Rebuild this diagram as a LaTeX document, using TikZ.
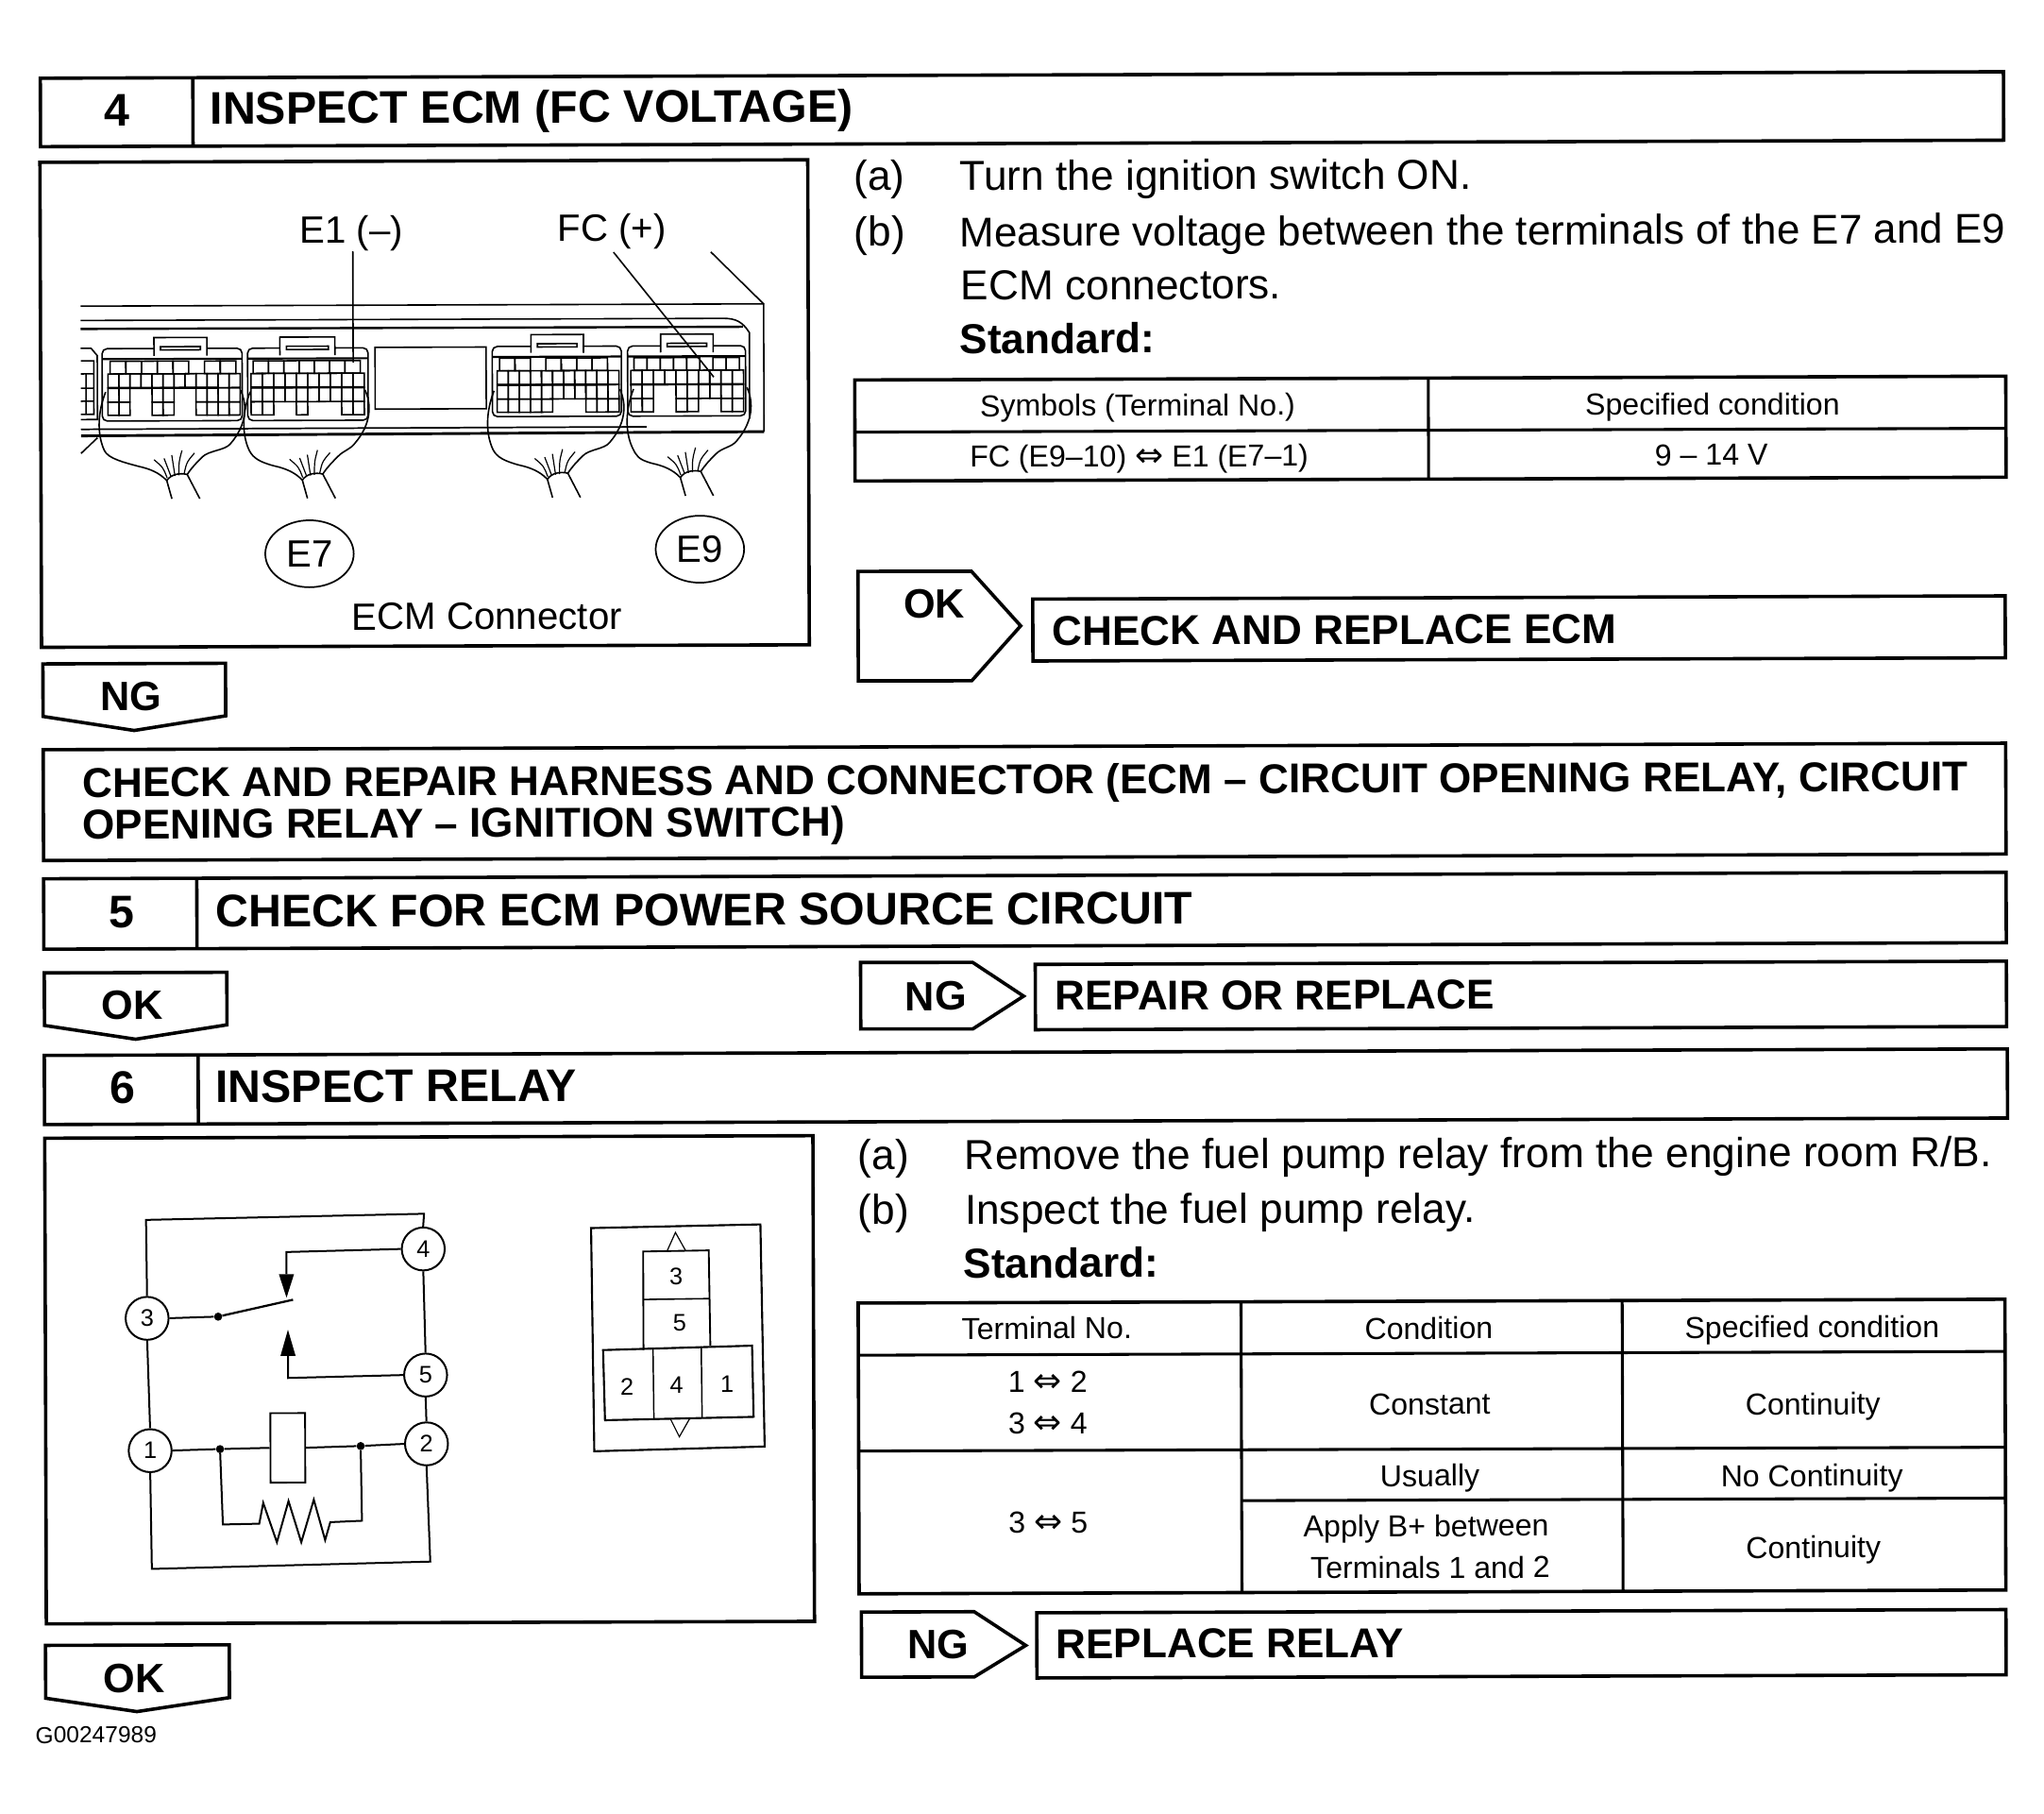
\documentclass[tikz,border=0pt]{standalone}
\usepackage{fontspec}
\setmainfont{Liberation Sans}
\newfontfamily\symf{DejaVu Sans}
\newcommand\hdf{\fontsize{36.3}{36.3}\selectfont\bfseries}
\newcommand\bxf{\fontsize{33.1}{33.1}\selectfont\bfseries}
\newcommand\tagf{\fontsize{32.5}{32.5}\selectfont\bfseries}
\newcommand\bdf{\fontsize{33.2}{40}\selectfont}
\newcommand\tbf{\fontsize{24.1}{30}\selectfont}
\newcommand\pcf{\fontsize{30.2}{30.2}\selectfont}
\newcommand\dgf{\fontsize{19}{19}\selectfont}
\newcommand\eqv{{\symf\fontsize{27}{20}\selectfont ⇔}}
\tikzset{
 bx/.style={draw,line width=2.7pt,line join=miter},
 sep/.style={draw,line width=2.3pt},
 thinl/.style={draw,line width=1.2pt},
 cellline/.style={draw,line width=1.15pt},
 wire/.style={draw,line width=1.5pt},
 lab/.style={anchor=base west,inner sep=0pt,transform shape},
 hdl/.style={lab,font=\hdf},
 bxl/.style={lab,font=\bxf},
 tagl/.style={lab,font=\tagf},
 bdl/.style={lab,font=\bdf},
 pcl/.style={lab,font=\pcf},
 tcl/.style={anchor=base,inner sep=0pt,transform shape,font=\tbf},
 numl/.style={anchor=base,inner sep=0pt,transform shape,font=\hdf},
 term/.style={draw,circle,line width=1.5pt,minimum size=34bp,inner sep=0pt,font=\dgf,transform shape},
 dgl/.style={inner sep=0pt,font=\dgf,transform shape},
 ecirc/.style={draw,ellipse,line width=1.3pt,minimum width=70bp,minimum height=53bp,inner sep=0pt,font=\pcf,transform shape},
 junction/.style={fill=black,circle,inner sep=0pt,minimum size=6.5pt},
}
\usetikzlibrary{shapes.geometric}
\newcommand\cellrow[5]{\foreach \c in {#5}{\draw[cellline] ({#1+\c*#2},#3) rectangle ({#1+(\c+1)*#2},#4);}}
\newcommand\conn[9]{%
 \cellrow{#3}{#4}{#5}{#5+9.7}{#6}%
 \cellrow{#1}{#2}{#5+9.7}{#5+20.5}{#7}%
 \cellrow{#1}{#2}{#5+20.5}{#5+31.4}{#8}%
 \cellrow{#1}{#2}{#5+31.4}{#5+41.5}{#9}%
 \draw[line width=1.8pt] (#1,{#5+20.5}) -- ({#1+#2*10},{#5+20.5});%
}
\newcommand\shell[4]{\draw[thinl,rounded corners=4] (#1,#4) -- (#1,#3) -- (#2,#3) -- (#2,#4) -- cycle;
 \draw[line width=1.6pt] (#1,{#3+8}) -- (#2,{#3+8});}
\newcommand\tabb[3]{\draw[thinl,fill=white] (#1,#3+14) -- (#1,#3) -- (#2,#3) -- (#2,#3+14);
 \draw[thinl] ({#1+5},#3+7) rectangle ({#2-5},#3+9.5);}
% #1 dx, #2 dy, #3 left-wire x (absolute), #4 right-wire x (absolute)
\newcommand\harness[4]{\begin{scope}[shift={(#1,#2)}]
 \draw[thinl] ({#3-#1+6},300) .. controls ({#3-#1},315) and ({#3-#1-1},332) .. ({#3-#1+5},345) .. controls ({#3-#1+8},351) and (95,354) .. (106,357) .. controls (115,359) and (122,362) .. (127.7,368) -- (131.6,382);
 \draw[thinl] ({#4-#1},299) .. controls ({#4-#1+5},310) and ({#4-#1+5},325) .. ({#4-#1-8},340) .. controls ({#4-#1-12},345) and (160,345) .. (155,350) .. controls (150,355) and (147,358) .. (143.4,363.4) -- (153,382);
 \draw[thinl] (127.7,368) .. controls (131,363) and (138,362) .. (143.4,363.4);
 \draw[line width=0.9pt] (128,366) .. controls (125,358) .. (118,352)
   (131,365) .. controls (129,358) .. (125.7,351)
   (134,364.5) .. controls (133,356) .. (131.6,348.5)
   (137,364) .. controls (137,354) .. (139.4,345)
   (141,363) .. controls (143,354) .. (149,347);
 \end{scope}}
\begin{document}
\begin{tikzpicture}[x=1.0357pt,y=-1.0357pt]
\useasboundingbox (0,0) rectangle (1568,1391);
\fill[white] (0,0) rectangle (1568,1391);
\begin{scope}[rotate around={0.19:(784,695)}]
%% Step 4
\draw[bx] (33,57.5) rectangle (1539,110);
\draw[bx] (150,57.5) -- (150,110);
\node[numl] (num4) at (92,94.7) {4};
\node[hdl] (head4) at (163,93) {INSPECT ECM (FC VOLTAGE)};
\draw[bx] (32.5,122) rectangle (621.5,494);
\node[bdl] (a4) at (656.8,145.6) {(a)};
\node[bdl] (a4t) at (738,146) {Turn the ignition switch ON.};
\node[bdl] (b4) at (656.7,188.6) {(b)};
\node[bdl,font=\fontsize{33}{40}\selectfont] (b4t) at (737.7,189) {Measure voltage between the terminals of the E7 and E9};
\node[bdl] (b4u) at (738.5,230) {ECM connectors.};
\node[bdl,font=\bdf\bfseries] (std4) at (737.4,271) {Standard:};
\draw[bx] (657,291) rectangle (1540,368.5);
\draw[sep] (657,331) -- (1540,331);
\draw[sep] (1097,291) -- (1097,368.5);
\node[tcl] (t1a) at (874,319.3) {Symbols (Terminal No.)};
\node[tcl] (t1b) at (1315,320) {Specified condition};
\node[tcl] (t1c) at (875,358.3) {FC (E9--10) \eqv{} E1 (E7--1)};
\node[tcl] (t1d) at (1314,358.7) {9 -- 14 V};
\draw[bx] (659,437.8) -- (746,438) -- (783.7,480) -- (746,522) -- (659,521.8) -- cycle;
\node[tagl] (ok4) at (693.7,474) {OK};
\draw[bx] (793,459.5) rectangle (1539,507);
\node[bxl] (rep4) at (807.6,495) {CHECK AND REPLACE ECM};
\draw[bx] (33.5,506.7) -- (173.6,506.7) -- (173.6,547) -- (103.4,558) -- (33.5,547) -- cycle;
\node[tagl] (ng4) at (77.5,543) {NG};
\draw[bx] (33.5,572.5) rectangle (1539,657.5);
\node[bxl] (h1) at (63.3,609) {CHECK AND REPAIR HARNESS AND CONNECTOR (ECM -- CIRCUIT OPENING RELAY, CIRCUIT};
\node[bxl] (h2) at (63.2,641) {OPENING RELAY -- IGNITION SWITCH)};
%% Step 5
\draw[bx] (33.5,671.5) rectangle (1539,725.5);
\draw[bx] (151,671.5) -- (151,725.5);
\node[numl] (num5) at (93,709) {5};
\node[hdl] (head5) at (165,709) {CHECK FOR ECM POWER SOURCE CIRCUIT};
\draw[bx] (33.8,743.7) -- (173.8,743.7) -- (173.8,784) -- (103.7,794.8) -- (33.8,784) -- cycle;
\node[tagl] (ok5) at (77.7,779.5) {OK};
\draw[bx] (660,737.8) -- (746,738) -- (785,764) -- (746,789) -- (660,788.8) -- cycle;
\node[tagl] (ng5) at (694,774.7) {NG};
\draw[bx] (794,739.7) rectangle (1539,789.8);
\node[bxl] (rep5) at (809,775) {REPAIR OR REPLACE};
%% Step 6
\draw[bx] (33.6,807) rectangle (1539.5,860);
\draw[bx] (151.6,807) -- (151.6,860);
\node[numl] (num6) at (93.5,844) {6};
\node[hdl] (head6) at (164.5,843.5) {INSPECT RELAY};
\draw[bx] (33.7,870.5) rectangle (623,1243);
\node[bdl] (a6) at (657.3,896.6) {(a)};
\node[bdl,font=\fontsize{33.3}{40}\selectfont] (a6t) at (739.3,897) {Remove the fuel pump relay from the engine room R/B.};
\node[bdl] (b6) at (657.2,938.6) {(b)};
\node[bdl] (b6t) at (739.2,939) {Inspect the fuel pump relay.};
\node[bdl,font=\bdf\bfseries] (std6) at (738,980) {Standard:};
\draw[bx] (657.3,999) rectangle (1537,1222);
\draw[sep] (657.3,1039) -- (1537,1039);
\draw[sep] (657.3,1112.5) -- (1537,1112.5);
\draw[sep] (951,1151.5) -- (1537,1151.5);
\draw[sep] (951,999) -- (951,1222);
\draw[sep] (1243.4,999) -- (1243.4,1222);
\node[tcl] (c1) at (802,1027) {Terminal No.};
\node[tcl] (c2) at (1095,1028) {Condition};
\node[tcl] (c3) at (1389,1028) {Specified condition};
\node[tcl] (r1) at (802.5,1068) {1 \eqv{} 2};
\node[tcl] (r2) at (802.5,1100) {3 \eqv{} 4};
\node[tcl] (r3) at (1095.5,1086) {Constant};
\node[tcl] (r4) at (1389.5,1087) {Continuity};
\node[tcl] (r5) at (802.5,1176) {3 \eqv{} 5};
\node[tcl] (r6) at (1095.5,1141) {Usually};
\node[tcl] (r7) at (1388.5,1142) {No Continuity};
\node[tcl] (r8) at (1092.5,1179.5) {Apply B+ between};
\node[tcl] (r9) at (1095.5,1211.5) {Terminals 1 and 2};
\node[tcl] (r10) at (1389.5,1197) {Continuity};
\draw[bx] (659,1236) -- (745.5,1236) -- (785,1262) -- (745.5,1286) -- (659,1286) -- cycle;
\node[tagl] (ng6) at (694,1271.7) {NG};
\draw[bx] (793.5,1237) rectangle (1537,1287);
\node[bxl] (rep6) at (808,1272) {REPLACE RELAY};
\draw[bx] (33,1259.5) -- (174,1259.5) -- (174,1300) -- (103,1310.5) -- (33,1300) -- cycle;
\node[tagl] (ok6) at (77,1296) {OK};
\node[lab,font=\fontsize{18.4}{18.4}\selectfont] (code) at (25,1334.5) {G00247989};
%% ECM connector picture
\begin{scope}[shift={(1.3,-1.6)}]
\node[pcl] (e1l) at (230,186.5) {E1 (--)};
\node[pcl] (fcl) at (428,185.5) {FC (+)};
\node[pcl] (ecm) at (269,483) {ECM Connector};
\node[ecirc] (e7) at (237,424.5) {E7};
\node[ecirc] (e9) at (536.5,422) {E9};
\draw[thinl] (62,234) -- (586,234) -- (586,332);
\draw[line width=2.2pt] (62,333.5) -- (586,332);
\draw[thinl] (62,245) -- (555,245) .. controls (565,245) and (570,248) .. (575,256) -- (575,322);
\draw[line width=1.8pt] (62,251.5) -- (570,251.5);
\draw[line width=1.3pt] (62,328.5) -- (496,328);
\draw[thinl] (545.6,194) -- (586,234);
% left stub
\draw[thinl] (62,266.4) -- (70,266.4) -- (74.7,272) -- (74.7,321) -- (62,321);
\draw[cellline] (62,276) -- (72,276) -- (72,317) -- (62,317) (62,286) -- (72,286) (62,297) -- (72,297) (62,307) -- (72,307) (66,286) -- (66,317);
% connector blocks
\shell{78.4}{185.8}{266.7}{322.2}
\tabb{118.2}{158.8}{258.3}
\shell{190}{282.4}{266.7}{322.2}
\tabb{214.8}{257}{258.3}
\draw[thinl] (287.8,266.4) rectangle (373,313.7);
\shell{377.7}{476.7}{266}{319.8}
\tabb{407.4}{447.7}{257}
\shell{481.5}{572}{266}{319.8}
\tabb{506.9}{547.2}{257}
\conn{82.8}{8.45}{84.5}{12.07}{276.4}{0,1,2,3,4,6,7}{0,...,11}{0,1,4,5,8,9,10,11}{0,1,4,5,8,9,10,11}
\conn{192.6}{8.69}{194.3}{11.73}{276.4}{0,...,6}{0,...,9}{0,...,9}{0,1,4,8,9}
\conn{381.4}{8.5}{383.3}{11.83}{275}{0,1,3,4,5,6}{0,...,10}{0,...,10}{0,1,2,3,4,8,9,10}
\conn{484}{8.64}{486.4}{10.1}{275}{0,1,2,3,4,6,7}{0,...,9}{0,1,4,5,6,7,8,9}{0,1,4,5,8,9}
% harnesses
\draw[thinl] (74.7,335) -- (62,347);
\harness{0}{0}{75}{184.6}
\harness{104}{0}{186}{280}
\harness{292}{0}{373}{475.5}
\harness{394}{-1}{480}{573}
% leaders
\draw[thinl] (e1l.south west -| 271,192) -- (271,278);
\draw[thinl] (471,194) -- (547.6,290);
\end{scope}
%% Relay picture
\begin{scope}[shift={(-1.2,-1.6)}]
\node[term] (t3) at (113,1010.5) {3};
\node[term] (t4) at (325,958) {4};
\node[term] (t5) at (326.5,1054.7) {5};
\node[term] (t1) at (115,1112) {1};
\node[term] (t2) at (327,1107.5) {2};
\node[junction] (j1) at (167.5,1009.4) {};
\node[junction] (j2) at (168.6,1111) {};
\node[junction] (j3) at (276.5,1109) {};
\draw[wire] (t3.north) -- (112.4,935) -- (325.7,931) -- (t4.north);
\draw[wire] (t3.south) -- (t1.north);
\draw[wire] (t4.south) -- (t5.north);
\draw[wire] (t5.south) -- (t2.north);
\draw[wire] (t1.south) -- (116,1202.7) -- (329.6,1197.8) -- (t2.south);
\draw[wire] (t3.east) -- (j1);
\draw[line width=1.7pt] (j1) -- (225,996.6);
\draw[wire] (t4.west) -- (220,960) -- (220,977);
\fill (214.2,977) -- (225.8,977) -- (220,995) -- cycle;
\draw[wire] (t5.west) -- (221,1056.6) -- (221,1039.7);
\fill (215.2,1039.7) -- (226.8,1039.7) -- (221,1019.6) -- cycle;
\node[draw,line width=1.4pt,minimum width=27.5bp,minimum height=55bp,inner sep=0pt,transform shape] (coil) at (220.6,1110.2) {};
\draw[wire] (t1.east) -- (j2) -- (coil.west);
\draw[wire] (coil.east) -- (j3) -- (t2.west);
\draw[wire,line join=miter] (j2) -- (170.6,1168.8) -- (198.5,1168.3) -- (201.6,1152.3) -- (212,1182.6) -- (221,1151) -- (230.7,1182.6) -- (240.4,1150) -- (249,1181) -- (253,1167.3) -- (277.3,1166.3) -- (j3);
% terminal layout
\draw[line width=1.6pt] (453.8,942.4) -- (583.7,940) -- (586.4,1110.4) -- (455.7,1113.6) -- cycle;
\draw[line width=1.4pt] (493.7,1036) -- (493.7,960.5) -- (544,959.8) -- (545,1033);
\draw[line width=1.2pt] (493.7,997.3) -- (544.5,996.8);
\draw[line width=1.6pt] (462.7,1036) -- (577,1033) -- (578,1087.6) -- (464,1089.8) -- cycle;
\draw[line width=1.1pt] (501,1034.5) -- (501.5,1089) (538,1033.5) -- (538.5,1088);
\draw[line width=0.9pt] (512,960.3) -- (518.5,946) -- (526.3,960);
\draw[line width=0.9pt] (514,1088.6) -- (521,1102.7) -- (529.4,1088);
\node[dgl] (p3) at (519,980) {3};
\node[dgl] (p5) at (521.6,1015.5) {5};
\node[dgl] (p2) at (481,1064) {2};
\node[dgl] (p4) at (519,1062.7) {4};
\node[dgl] (p1) at (557.7,1062.7) {1};
\end{scope}
\end{scope}
\end{tikzpicture}
\end{document}
